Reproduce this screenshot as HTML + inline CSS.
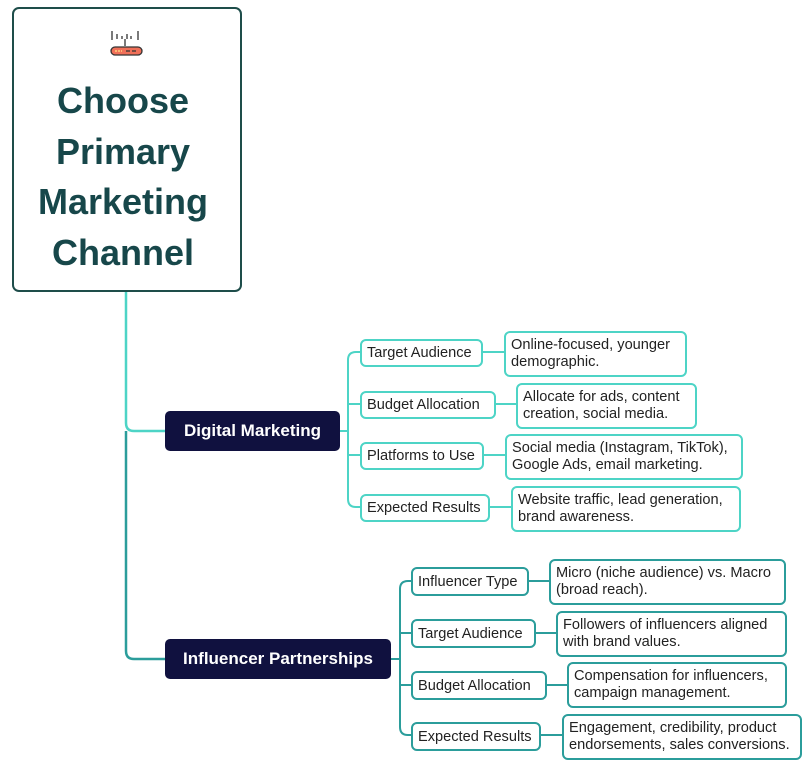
<!DOCTYPE html>
<html><head><meta charset="utf-8"><style>
body{margin:0;width:807px;height:776px;background:#fff;position:relative;overflow:hidden;font-family:"Liberation Sans",sans-serif}
.b{position:absolute;box-sizing:border-box;border-radius:6px;background:#fff;color:#222;}
.c{border:2px solid #4dd4c6}
.t{border:2px solid #2b9d9b}
.s{font-size:14.6px;display:flex;align-items:center;padding-left:5px;white-space:nowrap}
.l{font-size:14.6px;line-height:17px;padding:4px 5px;white-space:nowrap}
.m{background:#10113f;color:#fff;font-weight:bold;font-size:17px;display:flex;align-items:center;justify-content:center;border-radius:5px}
</style></head><body>
<svg width="807" height="776" style="position:absolute;left:0;top:0" fill="none">
<path d="M126 291 V423 Q126 431 134 431 H165" stroke="#4dd4c6" stroke-width="2.5"/>
<path d="M126 431 V651 Q126 659 134 659 H165" stroke="#2b9d9b" stroke-width="2.5"/>
<g stroke="#4dd4c6" stroke-width="2">
<path d="M339 431 H348"/>
<path d="M360 352 H356 Q348 352 348 360 V499 Q348 507 356 507 H360"/>
<path d="M348 404 H360 M348 455 H360"/>
<path d="M482 352 H504 M495 404 H516 M483 455 H505 M489 507 H511"/>
</g>
<g stroke="#2b9d9b" stroke-width="2">
<path d="M390 659 H400"/>
<path d="M411 581 H408 Q400 581 400 589 V727 Q400 735 408 735 H411"/>
<path d="M400 633 H411 M400 685 H411"/>
<path d="M528 581 H549 M535 633 H556 M546 685 H567 M540 735 H562"/>
</g>
<g transform="translate(111,31)">
<path d="M1 0 V9 M6 3 V8 M11 5 V8 M16 3 V8 M20 5 V8 M27 0 V9 M14 8 V15" stroke="#333" stroke-width="1.3"/>
<rect x="0" y="16" width="31" height="8" rx="4" fill="#f07059" stroke="#333" stroke-width="1.3"/>
<path d="M4 20 H11" stroke="#ffd27a" stroke-width="1.5" stroke-dasharray="2 1"/>
<path d="M15 20 H27" stroke="#333" stroke-width="1.3" stroke-dasharray="4 2"/>
</g>
</svg>
<div class="b" style="left:12px;top:7px;width:230px;height:285px;border:2.5px solid #1e4d4a;border-radius:7px;background:transparent;text-align:center;color:#17474a;font-weight:bold;font-size:36px;line-height:50.5px;padding-top:67px;padding-right:8px">Choose<br>Primary<br>Marketing<br>Channel</div>
<div class="b m" style="left:165px;top:411px;width:175px;height:40px">Digital Marketing</div>
<div class="b m" style="left:165px;top:639px;width:226px;height:40px">Influencer Partnerships</div>
<div class="b c s" style="left:360px;top:339px;width:123px;height:28px">Target Audience</div>
<div class="b c s" style="left:360px;top:391px;width:136px;height:28px">Budget Allocation</div>
<div class="b c s" style="left:360px;top:442px;width:124px;height:28px">Platforms to Use</div>
<div class="b c s" style="left:360px;top:494px;width:130px;height:28px">Expected Results</div>
<div class="b c l" style="left:504px;top:331px;width:183px;height:46px">Online-focused, younger<br>demographic.</div>
<div class="b c l" style="left:516px;top:383px;width:181px;height:46px">Allocate for ads, content<br>creation, social media.</div>
<div class="b c l" style="left:505px;top:434px;width:238px;height:46px">Social media (Instagram, TikTok),<br>Google Ads, email marketing.</div>
<div class="b c l" style="left:511px;top:486px;width:230px;height:46px">Website traffic, lead generation,<br>brand awareness.</div>
<div class="b t s" style="left:411px;top:567px;width:118px;height:29px">Influencer Type</div>
<div class="b t s" style="left:411px;top:619px;width:125px;height:29px">Target Audience</div>
<div class="b t s" style="left:411px;top:671px;width:136px;height:29px">Budget Allocation</div>
<div class="b t s" style="left:411px;top:722px;width:130px;height:29px">Expected Results</div>
<div class="b t l" style="left:549px;top:559px;width:237px;height:46px">Micro (niche audience) vs. Macro<br>(broad reach).</div>
<div class="b t l" style="left:556px;top:611px;width:231px;height:46px">Followers of influencers aligned<br>with brand values.</div>
<div class="b t l" style="left:567px;top:662px;width:220px;height:46px">Compensation for influencers,<br>campaign management.</div>
<div class="b t l" style="left:562px;top:714px;width:240px;height:46px">Engagement, credibility, product<br>endorsements, sales conversions.</div>
</body></html>
